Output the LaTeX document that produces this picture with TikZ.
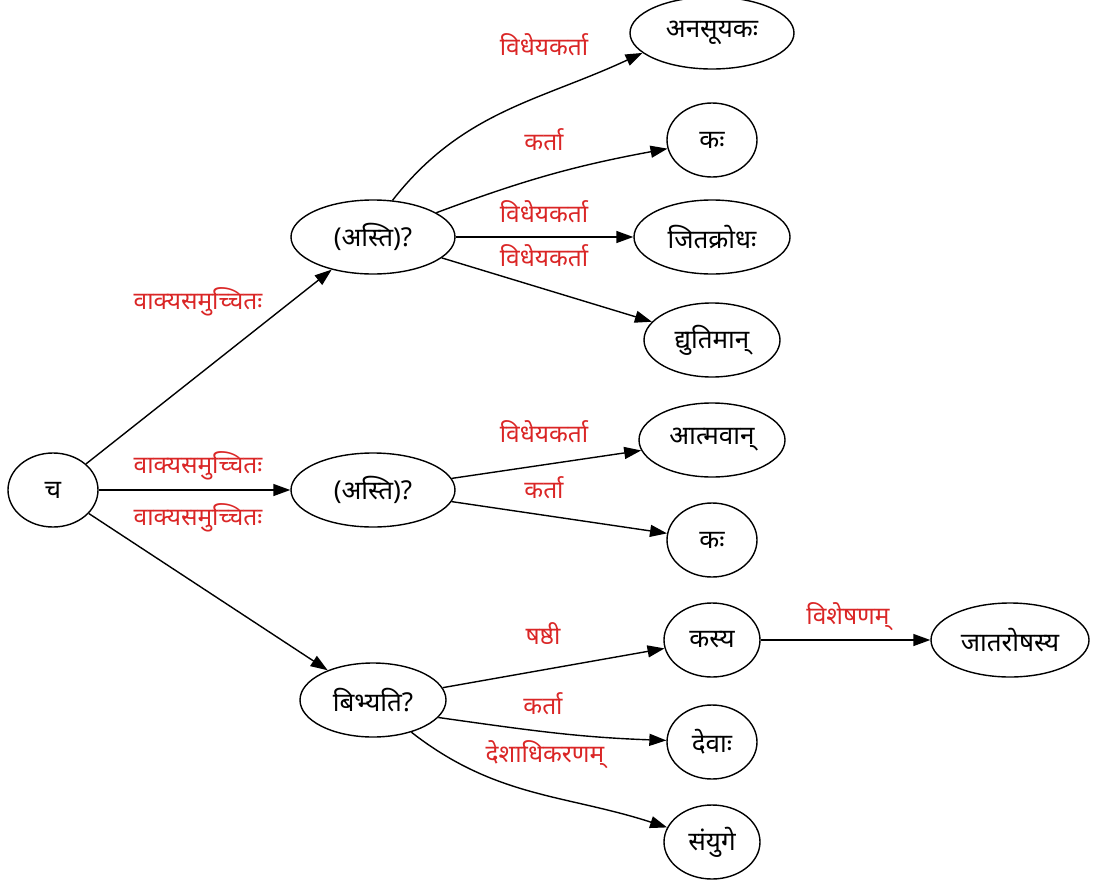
\documentclass[tikz,border=0pt]{standalone}
\usepackage{fontspec}
\setmainfont[Script=Devanagari]{Noto Sans}
\usetikzlibrary{shapes.geometric,arrows.meta}
\definecolor{lblred}{RGB}{218,38,38}
\tikzset{
 nd/.style={ellipse, draw, line width=1.4pt, minimum height=74pt, inner sep=0pt, font=\fontsize{26}{30}\selectfont},
 lbl/.style={text=lblred, font=\fontsize{24.5}{28}\selectfont, inner sep=0pt},
 edge/.style={line width=1.4pt, -{Triangle[length=17pt,width=12pt]}}
}
\begin{document}
\begin{tikzpicture}[x=1pt,y=-1pt]
\useasboundingbox (0,0) rectangle (1108,881);
% nodes
\node[nd, minimum width=90pt] (ca) at (53,490) {च};
\node[nd, minimum width=164pt] (as1) at (373,237) {(अस्ति)?};
\node[nd, minimum width=164pt] (as2) at (373,490) {(अस्ति)?};
\node[nd, minimum width=146pt] (bi) at (373,700) {बिभ्यति?};
\node[nd, minimum width=164pt, minimum height=72pt] (an) at (712,33) {अनसूयकः};
\node[nd, minimum width=90pt] (ka1) at (712,140) {कः};
\node[nd, minimum width=156pt] (ji) at (712,237) {जितक्रोधः};
\node[nd, minimum width=136pt] (dy) at (712,340) {द्युतिमान्};
\node[nd, minimum width=146pt] (at) at (712,440) {आत्मवान्};
\node[nd, minimum width=90pt] (ka2) at (712,540) {कः};
\node[nd, minimum width=96pt] (ks) at (712,640) {कस्य};
\node[nd, minimum width=90pt] (de) at (712,742) {देवाः};
\node[nd, minimum width=96pt] (sa) at (712,842) {संयुगे};
\node[nd, minimum width=158pt] (ja) at (1010,640) {जातरोषस्य};
% edges
\draw[edge] (ca) -- (as1);
\draw[edge] (ca) -- (as2);
\draw[edge] (ca) -- (bi);
\draw[edge] (as1.62) to[out=52,in=205] (an.196);
\draw[edge] (as1) to[bend left=5] (ka1);
\draw[edge] (as1) -- (ji);
\draw[edge] (as1) -- (dy);
\draw[edge] (as2) -- (at);
\draw[edge] (as2) -- (ka2);
\draw[edge] (bi) -- (ks);
\draw[edge] (bi.-15) to[out=-8,in=178] (de);
\draw[edge] (bi.-40) to[out=-38,in=162] (sa);
\draw[edge] (ks) -- (ja);
% labels
\node[lbl] (l1) at (198,302) {वाक्यसमुच्चितः};
\node[lbl] (l2) at (198,466) {वाक्यसमुच्चितः};
\node[lbl] (l3) at (198,518) {वाक्यसमुच्चितः};
\node[lbl] (l4) at (544,45) {विधेयकर्ता};
\node[lbl] (l5) at (544,140) {कर्ता};
\node[lbl] (l6) at (544,212) {विधेयकर्ता};
\node[lbl] (l7) at (544,256) {विधेयकर्ता};
\node[lbl] (l8) at (544,432) {विधेयकर्ता};
\node[lbl] (l9) at (544,488) {कर्ता};
\node[lbl] (l10) at (543,634) {षष्ठी};
\node[lbl] (l11) at (543,704) {कर्ता};
\node[lbl] (l12) at (545,755) {देशाधिकरणम्};
\node[lbl] (l13) at (848,617) {विशेषणम्};
\end{tikzpicture}
\end{document}
